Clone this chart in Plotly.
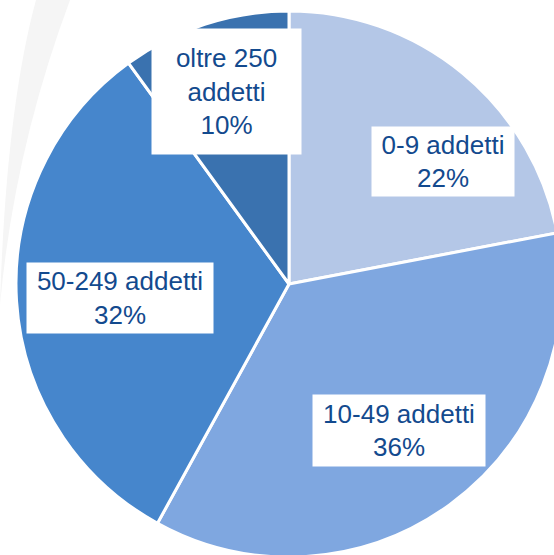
import math
import plotly.graph_objects as go

# Dati
categorie = ["0-9 addetti", "10-49 addetti", "50-249 addetti", "oltre 250 addetti"]
etichette = ["0-9 addetti", "10-49 addetti", "50-249 addetti", "oltre 250<br>addetti"]
quote = [22, 36, 32, 10]
colori = ["#B4C7E7", "#7FA7E0", "#4686CC", "#3A72AF"]

# Geometria (pagina piu' grande della finestra: la torta esce a destra e in basso)
W, H = 600, 600
cx, cy, R = 289, 284, 273

# posizione delle etichette: frazione del raggio e piccola correzione d'angolo
rag_etichetta = [0.72, 0.67, 0.62, 0.74]
corr_angolo = [12, -1, -1, 0]
box = [(138, 65), (168, 67), (182, 66), (145, 121)]


def px2paper(x, y):
    return f"{x / W:.4f},{1 - y / H:.4f}"


fig = go.Figure(go.Pie(
    labels=categorie,
    values=quote,
    sort=False,
    direction="clockwise",
    rotation=0,
    marker=dict(colors=colori, line=dict(color="white", width=3)),
    textinfo="none",
    hoverinfo="label+percent",
    domain=dict(x=[(cx - R) / W, (cx + R) / W],
                y=[(H - cy - R) / H, (H - cy + R) / H]),
))

# banda grigia tenue sul lato sinistro (ombra dello sfondo)
fig.add_shape(
    type="path", xref="paper", yref="paper", layer="below",
    path=(f"M {px2paper(36, 0)} Q {px2paper(6, 110)} {px2paper(0, 305)} "
          f"Q {px2paper(14, 150)} {px2paper(70, 0)} Z"),
    fillcolor="#F5F5F5", line=dict(width=0),
)

totale = sum(quote)
cumul = 0
for i, v in enumerate(quote):
    mid = (cumul + v / 2) / totale * 360 + corr_angolo[i]
    cumul += v
    a = math.radians(mid)
    px = cx + rag_etichetta[i] * R * math.sin(a)
    py = cy - rag_etichetta[i] * R * math.cos(a)
    pct = round(v / totale * 100)
    fig.add_annotation(
        x=px / W, y=1 - py / H, xref="paper", yref="paper",
        xanchor="center", yanchor="middle",
        text=f"{etichette[i]}<br>{pct}%",
        showarrow=False,
        font=dict(family="Liberation Sans, Arial", size=26, color="#134A8E"),
        bgcolor="white",
        width=box[i][0], height=box[i][1],
        borderpad=2,
        align="center", valign="middle",
    )

fig.update_layout(
    width=W, height=H,
    margin=dict(l=0, r=0, t=0, b=0),
    paper_bgcolor="white",
    showlegend=False,
)

fig.write_html(
    "out.html",
    config={"displayModeBar": False},
    post_script="document.body.style.overflow='hidden';"
                "document.documentElement.style.overflow='hidden';"
                "document.body.style.margin='0';",
)
